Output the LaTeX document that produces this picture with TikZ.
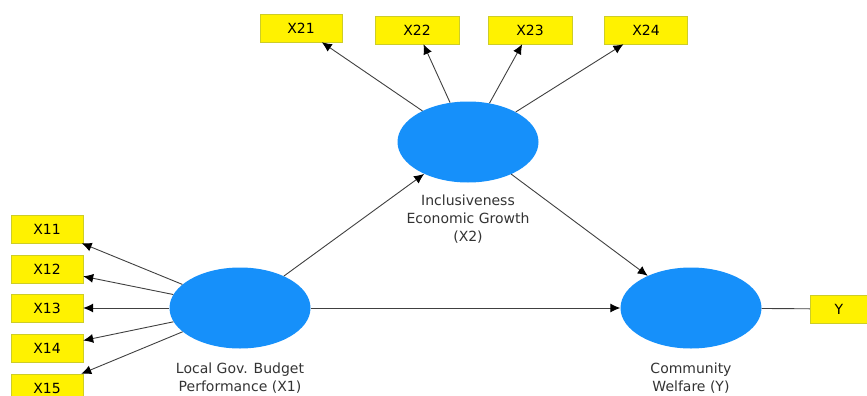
\documentclass[tikz,border=0pt]{standalone}
\usepackage{fontspec}
\setmainfont{DejaVu Sans}
\usetikzlibrary{arrows.meta,positioning,shapes.geometric}

\begin{document}
\begin{tikzpicture}[x=1pt,y=-1pt]
		\tikzstyle{construct} = [ellipse, minimum width=141pt, minimum height=81pt, 
		inner sep=0pt, draw=none, fill=latentblue]
		\tikzstyle{indicator} = [rectangle, minimum width=72pt, minimum height=28pt, 
		inner sep=0pt, text centered, draw=boxline, fill=yellow, font=\fontsize{14}{16}\selectfont]
		\tikzstyle{caption} = [align=center, text=black!80, font=\fontsize{14}{18}\selectfont]
		\tikzstyle{arrow} = [draw=black!75, line width=0.9pt, -{Latex[length=10pt,width=9pt,color=black]}]
		\definecolor{latentblue}{RGB}{22,144,250}
		\definecolor{boxline}{RGB}{205,205,40}
		\useasboundingbox (0,0) rectangle (867,396);
		% constructs
		\node (x1) [construct] at (240,308) {};
		\node (x2) [construct] at (468,142) {};
		\node (wy) [construct] at (691,308) {};
		\node (x1lab) [caption] at (240,378) {Local Gov. Budget\\Performance (X1)};
		\node (x2lab) [caption] at (468,219) {Inclusiveness\\Economic Growth\\(X2)};
		\node (wylab) [caption] at (691,378) {Community\\Welfare (Y)};
		% indicators
		\node (x11) [indicator] at (47,229) {X11};
		\node (x12) [indicator] at (47,269) {X12};
		\node (x13) [indicator] at (47,308) {X13};
		\node (x14) [indicator] at (47,348) {X14};
		\node (x15) [indicator] at (47,388) {X15};
		\node (x21) [indicator, minimum width=82pt] at (301,28) {X21};
		\node (x22) [indicator, minimum width=84pt] at (417,30) {X22};
		\node (x23) [indicator, minimum width=84pt] at (530,30) {X23};
		\node (x24) [indicator, minimum width=83pt] at (646,30) {X24};
		\node (y) [indicator, minimum width=58pt] at (839,309) {Y};
		\draw [arrow] (x1) -- (x11);
		\draw [arrow] (x1) -- (x12);
		\draw [arrow] (x1) -- (x13);
		\draw [arrow] (x1) -- (x14);
		\draw [arrow] (x1) -- (x15);
		\draw [arrow] (x2) -- (x21);
		\draw [arrow] (x2) -- (x22);
		\draw [arrow] (x2) -- (x23);
		\draw [arrow] (x2) -- (x24);
		\draw [arrow] (x1) -- (x2);
		\draw [arrow] (x1) -- (wy);
		\draw [arrow] (x2) -- (wy);
		\draw [draw=black!75, line width=0.9pt] (wy) -- (y);
\end{tikzpicture}
\end{document}
